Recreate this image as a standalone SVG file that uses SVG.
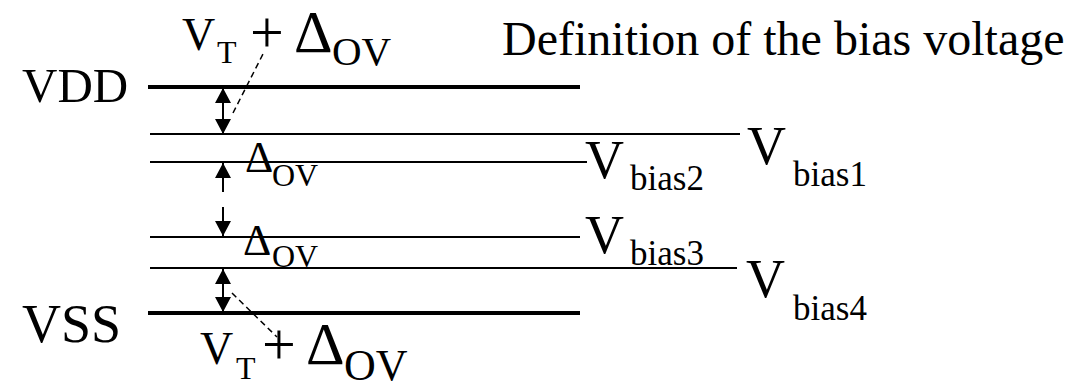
<svg xmlns="http://www.w3.org/2000/svg" width="1071" height="384" viewBox="0 0 1071 384" font-family="'Liberation Serif', 'Times New Roman', 'DejaVu Serif', serif">
<style>
  text { font-family: 'Liberation Serif', 'Times New Roman', 'DejaVu Serif', serif; fill: #000; }
  .rail { stroke: #000; stroke-width: 4; }
  .lvl { stroke: #000; stroke-width: 2; }
  .arr { stroke: #000; stroke-width: 2; fill: none; }
  .dash { stroke: #000; stroke-width: 1.5; stroke-dasharray: 6 4; fill: none; }
  .big { font-size: 46px; }
  .sub { font-size: 32px; }
  .pl { font-size: 60px; }
  .dl { font-size: 60px; }
  .sv { font-size: 41px; }
  .vb { font-size: 54px; }
  .vbs { font-size: 35px; }
</style>
<defs>
  <marker id="ah" viewBox="0 0 15 16" refX="15" refY="8" markerWidth="15" markerHeight="16" markerUnits="userSpaceOnUse" orient="auto-start-reverse">
    <path d="M0,0 L15,8 L0,16 z" fill="#000"/>
  </marker>
</defs>
<rect width="1071" height="384" fill="#fff"/>

<g id="title"><text x="502" y="55" font-size="48">Definition of the bias voltage</text></g>

<g id="vdd">
  <text x="22" y="102" font-size="49">VDD</text>
  <line class="rail" x1="148" y1="87" x2="580" y2="87"/>
</g>
<g id="vss">
  <text x="22" y="342" font-size="54">VSS</text>
  <line class="rail" x1="148" y1="313" x2="580" y2="313"/>
</g>

<g id="vbias1">
  <line class="lvl" x1="150" y1="134" x2="740" y2="134"/>
  <text class="vb" x="747" y="164">V</text><text class="vbs" x="793" y="186">bias1</text>
</g>
<g id="vbias2">
  <line class="lvl" x1="150" y1="162" x2="587" y2="162"/>
  <text class="vb" x="585" y="178">V</text><text class="vbs" x="630" y="190">bias2</text>
</g>
<g id="vbias3">
  <line class="lvl" x1="150" y1="237" x2="580" y2="237"/>
  <text class="vb" x="585" y="253">V</text><text class="vbs" x="630" y="265">bias3</text>
</g>
<g id="vbias4">
  <line class="lvl" x1="150" y1="268" x2="737" y2="268"/>
  <text class="vb" x="746" y="297">V</text><text class="vbs" x="793" y="320">bias4</text>
</g>

<g id="label-top">
  <text class="big" x="182" y="50">V</text>
  <text class="sub" x="217" y="63">T</text>
  <text class="pl" x="250" y="52">+</text>
  <text class="dl" x="294" y="52">Δ</text>
  <text class="sv" x="332" y="65">OV</text>
</g>
<g id="label-bottom">
  <text class="big" x="200" y="364">V</text>
  <text class="sub" x="236" y="379">T</text>
  <text class="pl" x="262" y="364">+</text>
  <text class="dl" x="306" y="364">Δ</text>
  <text class="sv" x="344" y="380" style="font-size:44px">OV</text>
</g>
<g id="label-ov1">
  <text x="245" y="172" font-size="44">Δ</text>
  <text x="272" y="186" font-size="32">OV</text>
</g>
<g id="label-ov2">
  <text x="243" y="255" font-size="44">Δ</text>
  <text x="272" y="267" font-size="32">OV</text>
</g>

<g id="connectors">
  <line class="arr" x1="223" y1="88" x2="223" y2="134" marker-start="url(#ah)" marker-end="url(#ah)"/>
  <line class="arr" x1="223" y1="192" x2="223" y2="163" marker-end="url(#ah)"/>
  <line class="arr" x1="223" y1="207" x2="223" y2="236" marker-end="url(#ah)"/>
  <line class="arr" x1="223" y1="269" x2="223" y2="312" marker-start="url(#ah)" marker-end="url(#ah)"/>
  <line class="dash" x1="233" y1="113" x2="263" y2="54"/>
  <line class="dash" x1="232" y1="293" x2="277" y2="337"/>
</g>
</svg>
